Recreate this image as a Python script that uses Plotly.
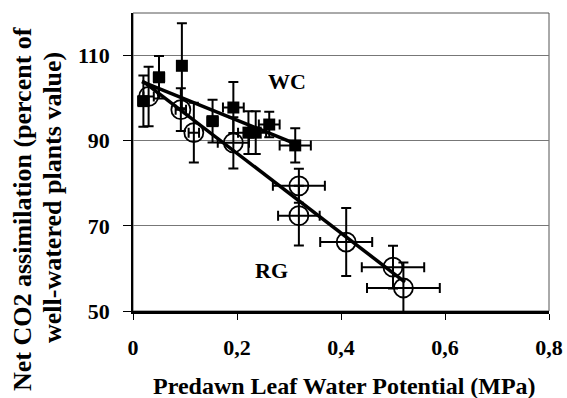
import plotly.graph_objects as go

# WC (filled squares)
wc_x = [0.02, 0.05, 0.094, 0.153, 0.193, 0.222, 0.236, 0.262, 0.312]
wc_y = [99.3, 104.9, 107.6, 94.6, 97.8, 91.9, 91.9, 93.8, 88.9]
wc_ey = [6, 5, 10, 5, 6, 5, 5, 3, 4]
wc_ex = [0.01, 0.01, 0.005, 0.01, 0.02, 0.02, 0.02, 0.02, 0.03]

# RG (open circles)
rg_x = [0.03, 0.092, 0.117, 0.193, 0.319, 0.319, 0.41, 0.50, 0.52]
rg_y = [100.4, 97.3, 91.9, 89.5, 79.4, 72.4, 66.2, 60.3, 55.4]
rg_ey = [7, 5, 7, 6, 4, 7, 8, 5, 6]
rg_ex = [0.01, 0.01, 0.01, 0.03, 0.05, 0.04, 0.05, 0.06, 0.07]

# regression line endpoints
wc_fit_x = [0.017, 0.308]
wc_fit_y = [103.9, 89.5]
rg_fit_x = [0.02, 0.523]
rg_fit_y = [103.9, 56.8]

x_ticks = [0, 0.2, 0.4, 0.6, 0.8]
x_labels = ["0", "0,2", "0,4", "0,6", "0,8"]
y_ticks = [50, 70, 90, 110]

FONT = "Liberation Serif"
W, H = 567, 398
L, R, T, B = 133, 18, 13, 87
PW, PH = W - L - R, H - T - B


def px(xp):
    return (xp - L) / PW


def py(yp):
    return (H - B - yp) / PH


fig = go.Figure()
fig.add_trace(go.Scatter(x=wc_fit_x, y=wc_fit_y, mode="lines",
                         line=dict(color="black", width=3.5), showlegend=False))
fig.add_trace(go.Scatter(x=rg_fit_x, y=rg_fit_y, mode="lines",
                         line=dict(color="black", width=3.5), showlegend=False))
fig.add_trace(go.Scatter(
    x=wc_x, y=wc_y, mode="markers",
    marker=dict(symbol="square", size=12, color="black"),
    error_y=dict(type="data", array=wc_ey, color="black", thickness=2, width=5),
    error_x=dict(type="data", array=wc_ex, color="black", thickness=2, width=5),
    showlegend=False))
fig.add_trace(go.Scatter(
    x=rg_x, y=rg_y, mode="markers",
    marker=dict(symbol="circle-open", size=19, color="black", line=dict(width=1.8)),
    error_y=dict(type="data", array=rg_ey, color="black", thickness=2, width=5),
    error_x=dict(type="data", array=rg_ex, color="black", thickness=2, width=5),
    showlegend=False))

fig.add_annotation(x=0.297, y=104.0, text="<b>WC</b>", showarrow=False,
                   xanchor="center", yanchor="middle",
                   font=dict(family=FONT, size=22, color="black"))
fig.add_annotation(x=0.266, y=59.5, text="<b>RG</b>", showarrow=False,
                   xanchor="center", yanchor="middle",
                   font=dict(family=FONT, size=22, color="black"))

# axis titles
fig.add_annotation(xref="paper", yref="paper", x=px(344), y=py(386),
                   xanchor="center", yanchor="middle",
                   text="<b>Predawn Leaf Water Potential (MPa)</b>", showarrow=False,
                   font=dict(family=FONT, size=24, color="black"))
fig.add_annotation(xref="paper", yref="paper", x=px(23), y=py(209), textangle=-90,
                   xanchor="center", yanchor="middle",
                   text="<b>Net CO2 assimilation (percent of</b>", showarrow=False,
                   font=dict(family=FONT, size=26, color="black"))
fig.add_annotation(xref="paper", yref="paper", x=px(52), y=py(198), textangle=-90,
                   xanchor="center", yanchor="middle",
                   text="<b>well-watered plants value)</b>", showarrow=False,
                   font=dict(family=FONT, size=26, color="black"))

# thin frame top/right
fig.add_shape(type="rect", xref="paper", yref="paper", x0=0, y0=0, x1=1, y1=1,
              line=dict(color="#555555", width=1), layer="below")

fig.update_layout(
    width=W, height=H,
    margin=dict(l=L, r=R, t=T, b=B),
    plot_bgcolor="white", paper_bgcolor="white",
    font=dict(family=FONT, color="black"),
    xaxis=dict(range=[0, 0.8], tickvals=x_ticks, ticktext=[f"<b>{t}</b>" for t in x_labels],
               showgrid=False, zeroline=False, showline=True, linecolor="black",
               linewidth=3, ticks="outside", ticklen=6, tickwidth=1.2, tickcolor="black",
               ticklabelstandoff=9, automargin=False,
               tickfont=dict(family=FONT, size=22, color="black")),
    yaxis=dict(range=[50, 120], tickvals=y_ticks, ticktext=[f"<b>{v}</b>" for v in y_ticks],
               showgrid=True, gridcolor="#777777", gridwidth=1, zeroline=False,
               showline=True, linecolor="black", linewidth=1.5,
               ticks="outside", ticklen=8, tickwidth=1.2, tickcolor="black",
               ticklabelstandoff=9, automargin=False,
               tickfont=dict(family=FONT, size=22, color="black")),
)

fig.write_html("out.html")
